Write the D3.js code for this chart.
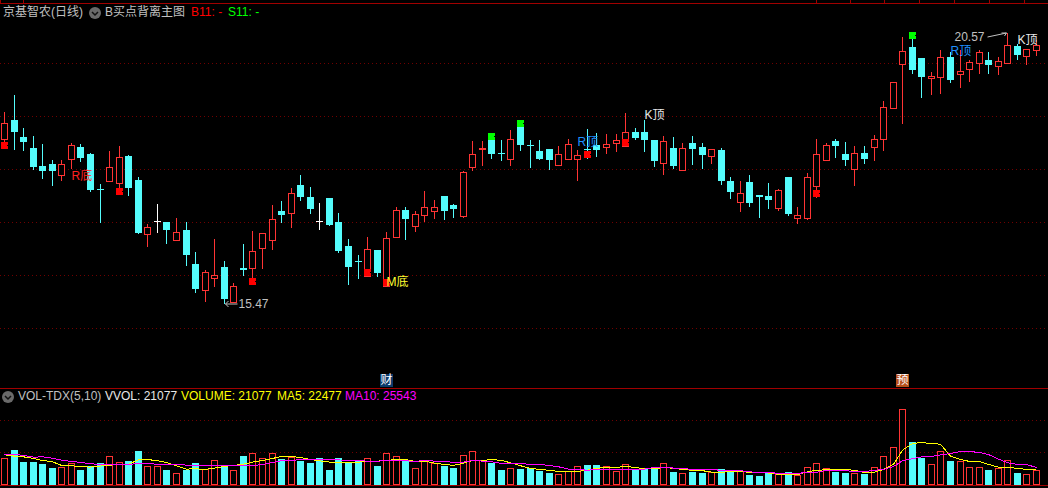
<!DOCTYPE html>
<html><head><meta charset="utf-8">
<script src="https://cdn.jsdelivr.net/npm/d3@7"></script>
<style>
html,body{margin:0;padding:0;background:#000;overflow:hidden}
svg{display:block}
text{font-family:"Liberation Sans",Arial,"Noto Sans CJK SC",sans-serif;font-size:12px}
</style></head><body><svg id="c" width="1048" height="488"></svg>
<script>
const openP=[18.57,18.93,18.60,18.40,18.06,18.10,17.89,18.19,18.42,18.28,17.63,17.77,17.74,18.25,17.79,16.77,17.02,17.00,16.66,16.85,16.21,15.72,15.94,16.15,15.49,16.13,16.13,16.51,16.66,17.21,17.17,17.70,17.47,17.02,17.45,17.00,16.55,16.26,15.98,16.47,15.79,16.72,17.23,16.93,17.13,17.21,17.49,17.32,17.11,18.04,18.37,18.55,18.31,18.19,18.79,18.45,18.34,18.38,18.08,18.19,18.19,18.38,18.45,18.42,18.49,18.44,18.70,18.70,18.55,18.11,18.40,17.98,18.49,18.42,18.25,18.36,17.77,17.38,17.76,17.50,17.49,17.27,17.85,17.08,17.08,17.68,18.17,18.53,18.28,18.00,18.30,18.42,18.57,19.15,19.98,20.30,20.10,19.72,19.74,20.11,19.79,19.89,20.00,20.06,19.94,20.00,20.32,20.13,20.25];
const highP=[19.08,19.40,18.78,18.62,18.47,18.17,18.17,18.49,18.47,18.30,17.72,18.34,18.44,18.27,17.85,16.96,17.34,17.00,17.08,17.00,16.43,16.09,16.68,16.27,15.85,16.59,16.83,16.79,17.32,17.40,17.64,17.89,17.66,17.36,17.45,17.17,16.68,16.38,16.72,16.47,16.81,17.28,17.28,17.21,17.59,17.42,17.49,17.34,17.96,18.53,18.53,18.68,18.55,18.74,18.93,18.55,18.55,18.38,18.44,18.57,18.36,18.76,18.68,18.66,18.66,19.06,18.78,18.93,18.55,18.62,18.60,18.49,18.62,18.49,18.38,18.40,17.85,17.77,17.89,17.50,17.74,17.62,17.85,17.28,17.93,18.57,18.49,18.57,18.51,18.44,18.44,18.64,19.28,19.64,20.49,20.45,20.10,19.83,20.25,20.21,20.25,20.06,20.25,20.21,20.11,20.57,20.36,20.27,20.44];
const lowP=[18.51,18.38,18.36,18.00,17.83,17.70,17.79,18.02,18.15,17.59,17.00,17.77,17.64,17.51,16.79,16.55,16.81,16.61,16.66,16.19,15.68,15.51,15.79,15.47,15.49,16.00,15.94,16.13,16.49,17.00,16.91,17.42,17.17,16.87,16.94,16.43,15.83,15.94,15.98,15.98,15.79,16.72,16.68,16.83,17.02,17.08,17.06,17.10,17.10,17.98,18.08,18.21,18.17,18.08,18.36,18.04,18.19,18.00,18.08,18.19,17.79,18.21,18.25,18.30,18.34,18.44,18.57,18.34,18.06,17.91,18.02,17.98,18.10,18.02,18.11,17.72,17.45,17.21,17.30,17.10,17.27,17.23,17.13,16.98,17.06,17.47,18.17,18.23,18.08,17.70,18.11,18.17,18.36,19.15,18.87,19.81,19.36,19.42,19.44,19.64,19.55,19.66,19.81,19.81,19.79,20.00,20.08,19.98,20.15];
const closeP=[18.87,18.70,18.51,18.04,17.96,17.96,18.10,18.45,18.21,17.60,17.61,18.04,18.23,17.64,16.79,16.91,17.02,16.85,16.81,16.38,15.74,16.06,16.00,15.55,15.79,16.09,16.45,16.79,17.06,17.13,17.55,17.47,17.25,17.02,16.94,16.45,16.15,16.24,16.49,16.04,16.70,17.23,17.06,17.15,17.28,17.28,17.21,17.25,17.94,18.28,18.39,18.28,18.29,18.57,18.45,18.43,18.19,18.17,18.28,18.47,18.27,18.36,18.36,18.47,18.55,18.70,18.59,18.55,18.15,18.53,18.06,18.40,18.38,18.27,18.38,17.77,17.57,17.55,17.36,17.48,17.42,17.60,17.15,17.13,17.85,18.28,18.45,18.44,18.17,18.30,18.19,18.57,19.17,19.64,20.23,19.87,19.74,19.76,20.11,19.68,19.85,20.02,20.21,19.96,20.04,20.34,20.15,20.27,20.34];
const volumeK=[39.6,52.4,33.9,33.9,30.8,24.7,25.7,31.9,21.6,27.8,32.4,42.7,33.4,35.5,50.9,27.2,27.2,21.6,16.4,21.6,32.4,22.6,36.5,27.8,21.1,43.2,47.3,39.6,47.3,38.6,41.1,35.5,32.4,40.1,21.6,40.1,33.9,35.5,39.6,27.8,47.3,42.7,37.0,24.2,36.5,32.4,27.8,24.7,45.7,50.4,36.5,32.4,21.6,24.2,23.1,24.7,20.0,17.0,14.9,20.0,27.2,29.3,29.3,27.2,19.5,30.3,21.6,23.1,24.2,31.9,18.5,16.4,18.5,17.0,18.0,23.1,19.5,19.5,13.9,12.3,16.4,14.9,18.5,13.9,25.7,31.9,24.2,18.5,17.0,16.4,15.4,25.7,42.7,58.1,116.7,64.8,40.1,30.3,50.4,35.5,35.0,25.7,25.7,21.6,24.2,36.5,17.0,14.9,21.1];
const ma5K=[45.2,43.2,42.1,39.6,36.5,34.4,28.8,28.3,26.7,26.2,27.8,29.3,29.8,30.8,37.5,38.0,36.0,33.4,28.3,23.1,23.6,22.6,24.7,27.2,28.8,30.8,33.9,36.5,39.6,42.7,42.7,41.1,38.0,36.0,33.9,33.9,33.9,33.9,35.5,35.5,36.5,38.0,38.0,35.0,35.5,32.4,30.3,28.8,32.4,36.5,36.5,38.0,36.5,32.9,28.3,24.2,22.6,21.1,19.5,19.5,19.5,21.6,24.2,25.7,25.7,27.2,25.7,23.6,23.6,25.7,24.2,22.6,21.1,20.6,18.5,18.0,19.5,19.5,18.0,18.0,17.0,14.9,14.4,14.4,19.0,21.1,22.1,22.6,22.6,21.1,18.0,18.5,22.6,30.3,52.4,62.7,64.3,62.7,61.7,43.2,38.0,35.0,35.0,30.3,26.2,25.7,24.2,22.6,22.5];
const ma10K=[45.2,46.3,44.2,41.6,42.1,40.1,37.0,35.0,33.4,31.4,30.3,29.8,29.8,30.3,31.9,31.4,30.8,30.3,30.3,29.3,29.3,28.8,28.3,28.8,28.3,29.3,28.3,30.3,33.4,36.0,36.5,38.0,38.0,37.5,38.0,37.5,36.0,36.0,35.5,35.5,36.0,36.5,36.0,35.0,36.5,35.5,35.0,33.4,33.9,36.5,35.5,34.4,31.9,31.9,31.9,30.3,30.3,28.8,26.7,23.1,23.1,21.1,23.1,23.1,22.6,23.1,23.1,23.1,25.7,25.7,24.7,24.2,22.6,22.6,22.6,21.1,21.1,20.6,19.0,17.5,18.0,16.4,16.4,16.4,18.0,18.0,21.1,21.1,20.6,19.5,19.5,21.1,22.6,27.2,36.0,39.1,42.1,42.7,45.2,47.3,50.4,50.4,48.8,45.7,38.6,32.9,30.3,30.3,25.5];
const buyIdx=[0,12,26,38,40,61,65,85];
const buyPrice=[18.51,17.64,15.94,16.11,15.92,18.34,18.57,17.60];
const sellIdx=[51,54,95];
const sellPrice=[18.68,18.93,20.59];
const priceTicks=[15,16,17,18,19,20];
const volumeTicks=[50,100];
const headerLabels=["京基智农(日线)","B买点背离主图","B11: -","S11: -"];
const volumeLabels=["VOL-TDX(5,10)","VVOL: 21077","VOLUME: 21077","MA5: 22477","MA10: 25543"];
const priceNotes=["R底","M底","R顶","K顶","R顶","K顶"];
const noteIdx=[7,40,60,67,99,106];
const notePrice=[17.85,15.85,18.50,19.00,20.22,20.42];
const topTickX=[0,23,816,850,884,919,954,989,1024];

const RED="#ff3434",CYAN="#54fcfc",GRID="#700000",LINE="#a00000",GREY="#c0c0c0";
const svg=d3.select("#c");
svg.append("rect").attr("width",1048).attr("height",488).attr("fill","#000");
const x=d3.scaleLinear().domain([0,108]).range([4.5,1036.5]);
const y=d3.scaleLinear().domain([15,21]).range([328,10]);
const yv=d3.scaleLinear().domain([0,100]).range([484,419.5]);
const cx=i=>Math.floor(x(i))+.5;
const py=v=>Math.round(y(v));
const idx=d3.range(openP.length);
const W=3.5;

// frame
[3.5,388.5,485.5].forEach(v=>svg.append("line").attr("x1",0).attr("x2",1048).attr("y1",v).attr("y2",v).attr("stroke",LINE));
svg.selectAll(".tt").data(topTickX).join("line").attr("x1",d=>d+.5).attr("x2",d=>d+.5).attr("y1",0).attr("y2",3).attr("stroke",LINE);

// grid
const dot=s=>s.attr("x1",0).attr("x2",1048).attr("stroke",GRID).attr("stroke-dasharray","1 3").attr("shape-rendering","crispEdges");
svg.selectAll(".g").data(priceTicks).join("line").call(dot).attr("y1",d=>py(d)+.5).attr("y2",d=>py(d)+.5);
svg.selectAll(".gv").data(volumeTicks).join("line").call(dot).attr("y1",d=>Math.round(yv(d))+.5).attr("y2",d=>Math.round(yv(d))+.5);

// candles
const isFlat=i=>openP[i]===closeP[i];
const isUp=i=>closeP[i]>openP[i]||(isFlat(i)&&closeP[i]>=closeP[i-1]);
const col=i=>isFlat(i)?"#ffffff":(isUp(i)?RED:CYAN);
const gc=svg.append("g").attr("shape-rendering","crispEdges");
const hollow=(g,X,t,b,c)=>{
  g.append("rect").attr("x",X-W).attr("y",t).attr("width",7).attr("height",b-t).attr("fill",c);
  g.append("rect").attr("x",X-W+1).attr("y",t+1).attr("width",5).attr("height",Math.max(b-t-2,0)).attr("fill","#000");
};
idx.forEach(i=>{
  const top=Math.max(openP[i],closeP[i]),bot=Math.min(openP[i],closeP[i]);
  const t=py(top),b=py(bot),c=col(i),X=cx(i);
  gc.append("line").attr("x1",X).attr("x2",X).attr("y1",py(highP[i])).attr("y2",t).attr("stroke",c);
  gc.append("line").attr("x1",X).attr("x2",X).attr("y1",b).attr("y2",py(lowP[i])+1).attr("stroke",c);
  if(isFlat(i)){
    gc.append("line").attr("x1",X-W).attr("x2",X+W).attr("y1",t+.5).attr("y2",t+.5).attr("stroke",c);
  }else if(isUp(i)){
    hollow(gc,X,t,Math.max(b+1,t+2),c);
  }else{
    gc.append("rect").attr("x",X-W).attr("y",t).attr("width",7).attr("height",Math.max(b-t,1)).attr("fill",c);
  }
});
// signal blocks
const block=(d,p,f)=>{
  gc.append("rect").attr("x",cx(d)-W).attr("y",py(p)).attr("width",7).attr("height",7).attr("fill",f);
  gc.append("rect").attr("x",cx(d)+W-1).attr("y",py(p)+3).attr("width",1).attr("height",1).attr("fill","#000");
};
buyIdx.forEach((d,k)=>block(d,buyPrice[k],"#ff0000"));
sellIdx.forEach((d,k)=>block(d,sellPrice[k],"#00ff00"));

// price notes
const noteColor=["#ff2020","#ffff30","#1e90ff","#e8e8e8","#1e90ff","#e8e8e8"];
priceNotes.forEach((t,k)=>svg.append("text").attr("x",cx(noteIdx[k])).attr("y",y(notePrice[k])).attr("fill",noteColor[k]).attr("dominant-baseline","middle").text(t));

// extreme labels
const ext=(i,v,txt,right)=>{
  const X=cx(i),Y=py(v);
  if(right){
    svg.append("path").attr("d",`M${X+1} ${Y+1}H${X+13}M${X+1} ${Y+1}l3 -3M${X+1} ${Y+1}l3 3`).attr("fill","none").attr("stroke",GREY);
    svg.append("text").attr("x",X+14).attr("y",Y+2).attr("fill",GREY).attr("dominant-baseline","middle").text(txt);
  }else{
    svg.append("path").attr("d",`M${X-20} ${Y+4}L${X-1} ${Y}M${X-1} ${Y}l-5 0M${X-1} ${Y}l-2 3`).attr("fill","none").attr("stroke",GREY);
    svg.append("text").attr("x",X-53).attr("y",Y+5).attr("fill",GREY).attr("dominant-baseline","middle").text(txt);
  }
};
ext(23,15.47,"15.47",true);
ext(105,20.57,"20.57",false);

// event badges
const badge=(i,t,f)=>{
  const X=cx(i);
  svg.append("rect").attr("x",X-6.5).attr("y",374).attr("width",13).attr("height",13).attr("fill",f);
  svg.append("text").attr("x",X).attr("y",381).attr("text-anchor","middle").attr("dominant-baseline","middle").attr("fill","#fff").text(t);
};
badge(40,"财","#0c3a6b");
badge(94,"预","#b8501c");

// volume
const gv=svg.append("g").attr("shape-rendering","crispEdges");
idx.forEach(i=>{
  const X=cx(i),t=Math.round(yv(volumeK[i]));
  if(isUp(i)) hollow(gv,X,t,485,RED);
  else gv.append("rect").attr("x",X-W).attr("y",t).attr("width",7).attr("height",485-t).attr("fill",CYAN);
});
const ln=d3.line().x(i=>cx(i));
svg.append("path").attr("d",ln.y(i=>yv(ma5K[i]))(idx)).attr("fill","none").attr("stroke","#ffff00").attr("shape-rendering","crispEdges");
svg.append("path").attr("d",ln.y(i=>yv(ma10K[i]))(idx)).attr("fill","none").attr("stroke","#ff00ff").attr("shape-rendering","crispEdges");

// legends
const chev=(X,Y)=>{
  svg.append("circle").attr("cx",X).attr("cy",Y).attr("r",6).attr("fill","#6a6a6a");
  svg.append("path").attr("d",`M${X-3} ${Y-1}l3 3l3 -3`).attr("fill","none").attr("stroke","#111").attr("stroke-width",1.5);
};
const label=(X,Y,t,f)=>svg.append("text").attr("x",X).attr("y",Y).attr("fill",f).attr("dominant-baseline","middle").text(t);
chev(95,13);chev(8,397);
label(3,13,headerLabels[0],GREY);
label(105,13,headerLabels[1],GREY);
label(191,13,headerLabels[2],"#ff0000");
label(228,13,headerLabels[3],"#00ff00");
label(18,397,volumeLabels[0],GREY);
label(105,397,volumeLabels[1],"#e8e8e8");
label(181,397,volumeLabels[2],"#ffff00");
label(277,397,volumeLabels[3],"#ffff00");
label(345,397,volumeLabels[4],"#ff00ff");
</script></body></html>
